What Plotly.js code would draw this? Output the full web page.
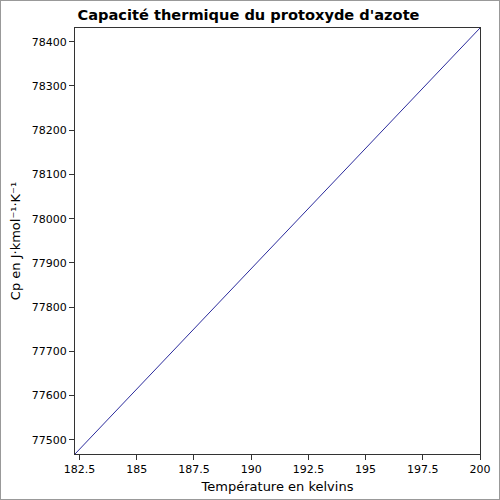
<!DOCTYPE html>
<html>
<head>
<meta charset="utf-8">
<script src="https://cdn.plot.ly/plotly-3.0.1.min.js"></script>
<style>
html,body{margin:0;padding:0;background:#fff;}
#chart{width:500px;height:500px;box-sizing:border-box;border:1px solid #999;}
</style>
</head>
<body>
<div id="chart"></div>
<script>
const temperatureK = [182.3, 200];
const cpValues = [77468, 78431];
const xTickVals = [182.5, 185, 187.5, 190, 192.5, 195, 197.5, 200];
const xTickText = ["182.5", "185", "187.5", "190", "192.5", "195", "197.5", "200"];
const yTickVals = [77500, 77600, 77700, 77800, 77900, 78000, 78100, 78200, 78300, 78400];
const yTickText = yTickVals.map(String);

const trace = {
  x: temperatureK,
  y: cpValues,
  type: 'scatter',
  mode: 'lines',
  line: {color: '#2b2b9c', width: 1},
  hoverinfo: 'skip'
};

const layout = {
  width: 498, height: 498,
  paper_bgcolor: '#fff', plot_bgcolor: '#fff',
  font: {family: 'DejaVu Sans', color: '#000', size: 11},
  margin: {l: 74, r: 19, t: 27, b: 45},
  showlegend: false,
  title: {text: "<b>Capacité thermique du protoxyde d'azote</b>", font: {size: 14.6, family: 'DejaVu Sans'}, x: 0.497, xanchor: 'center', y: 0.972, yanchor: 'middle'},
  xaxis: {
    range: [temperatureK[0], temperatureK[1]],
    tickmode: 'array', tickvals: xTickVals, ticktext: xTickText,
    ticks: 'outside', ticklen: 5, tickcolor: '#333',
    showgrid: false, zeroline: false,
    showline: true, linecolor: '#333', linewidth: 1, mirror: true,
    title: {text: 'Température en kelvins', font: {size: 13}, standoff: 6}
  },
  yaxis: {
    range: [cpValues[0], cpValues[1]],
    tickmode: 'array', tickvals: yTickVals, ticktext: yTickText,
    ticks: 'outside', ticklen: 5, tickcolor: '#333',
    showgrid: false, zeroline: false,
    showline: true, linecolor: '#333', linewidth: 1, mirror: true,
    title: {text: 'Cp en J·kmol⁻¹·K⁻¹', font: {size: 13}, standoff: 8}
  }
};

Plotly.newPlot('chart', [trace], layout, {displayModeBar: false, staticPlot: true});
</script>
</body>
</html>
